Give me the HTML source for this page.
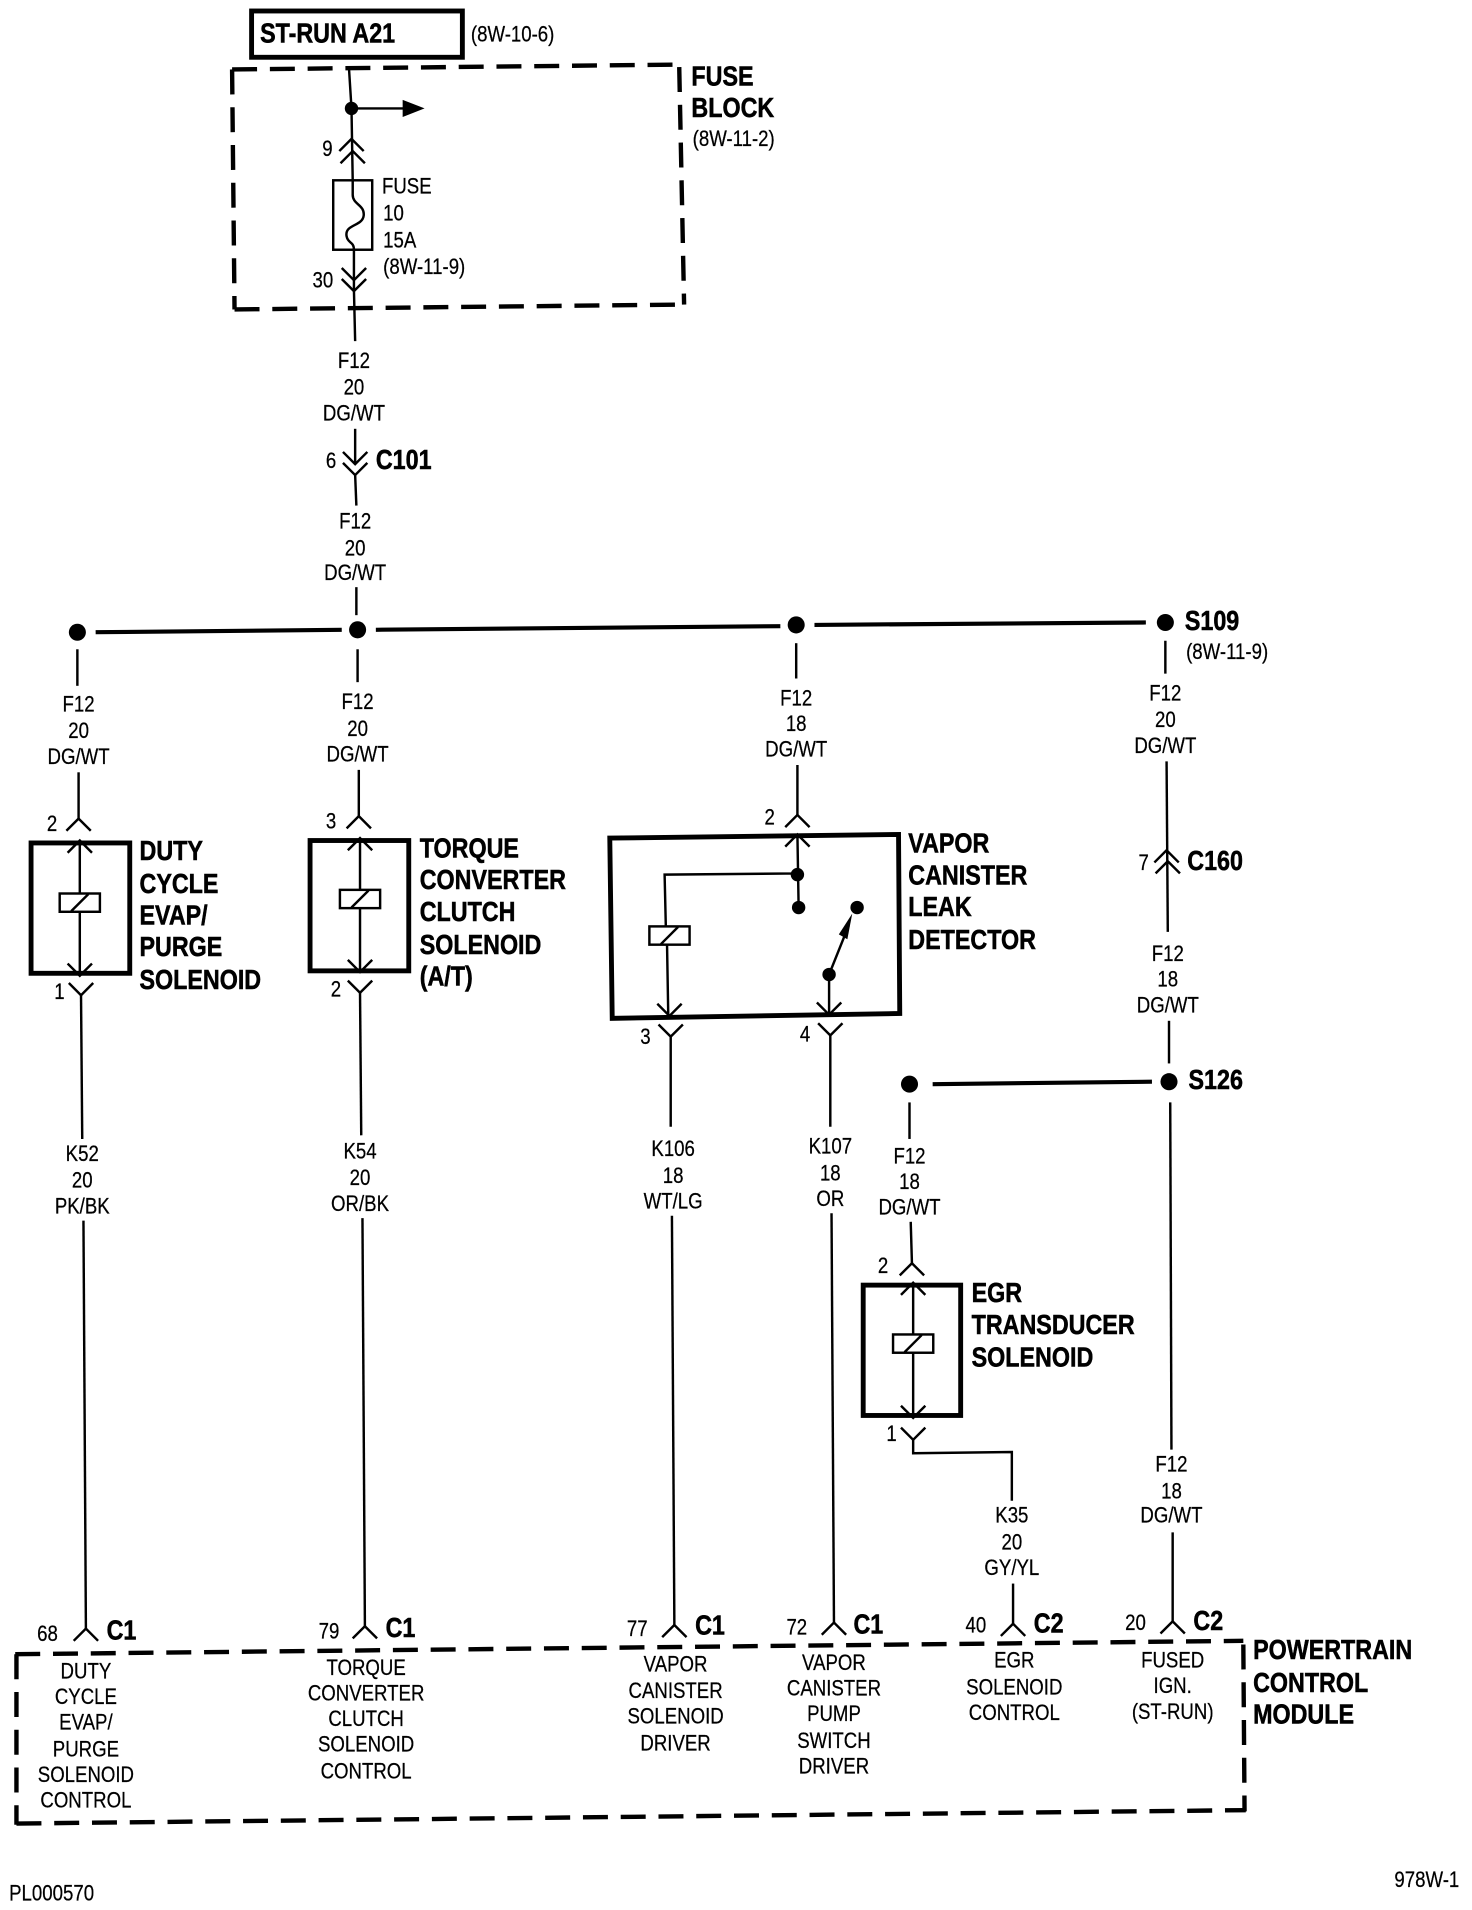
<!DOCTYPE html>
<html><head><meta charset="utf-8"><style>
html,body{margin:0;padding:0;background:#fff;width:1472px;height:1910px;overflow:hidden}
svg{display:block}
text{font-family:"Liberation Sans",sans-serif;fill:#000}
.r{font-size:18px;stroke:#000;stroke-width:.2px}
.c{font-size:18px;text-anchor:middle;stroke:#000;stroke-width:.2px}
.b{font-size:22.5px;font-weight:bold;stroke:#000;stroke-width:.45px}
.w{fill:none;stroke:#000;stroke-width:2}
.t{fill:none;stroke:#000;stroke-width:4}
.h{fill:none;stroke:#000;stroke-width:3.4}
.d{fill:none;stroke:#000;stroke-width:3.6;stroke-dasharray:20.5 10.5}
</style></head><body>
<svg width="1472" height="1910" viewBox="0 0 1210 1570" xmlns="http://www.w3.org/2000/svg">
<defs>
<path id="u" d="M-10 10L0 0L10 10" fill="none" stroke="#000" stroke-width="2"/>
<path id="v" d="M-10 -10L0 0L10 -10" fill="none" stroke="#000" stroke-width="2"/>
<g id="k"><rect x="-16.5" y="-7.5" width="33" height="15" fill="#fff" stroke="#000" stroke-width="2"/><path d="M-7 7L7 -7" stroke="#000" stroke-width="2"/></g>
</defs>
<rect width="1210" height="1570" fill="#fff"/>
<g transform="translate(.5 0) scale(1.0015 1.0013)">

<!-- top -->
<rect x="206" y="9" width="173" height="38" class="t"/>
<text class="b" transform="translate(213 35) scale(.85 1)">ST-RUN A21</text>
<text class="r" transform="translate(386 34) scale(.85 1)">(8W-10-6)</text>
<path class="d" d="M190 57L557 53"/><path class="d" d="M190 57L192 254"/><path class="d" d="M192 254L561 250"/><path class="d" d="M557 55L561 250"/>
<text class="b" transform="translate(567 70) scale(.85 1)">FUSE</text>
<text class="b" transform="translate(567 96) scale(.85 1)">BLOCK</text>
<text class="r" transform="translate(568 120) scale(.85 1)">(8W-11-2)</text>
<path class="w" d="M286 57L288 89L289 148"/><circle cx="288" cy="89" r="5.5"/><path class="w" d="M288 89H332"/><path d="M330 82L348 89L330 96Z"/>
<use href="#u" x="288" y="114"/><use href="#u" x="289" y="124"/>
<text class="r" transform="translate(264 128) scale(.85 1)">9</text>
<rect x="273" y="148" width="32" height="57" fill="#fff" stroke="#000" stroke-width="2"/>
<path class="w" d="M289 148V160C289 168 299 168 298 177C297 186 282 184 284 194C285 200 290 198 290 205V238L291 280"/>
<use href="#v" x="290" y="230"/><use href="#v" x="290" y="239"/>
<text class="r" transform="translate(256 236) scale(.85 1)">30</text>
<text class="r" transform="translate(313 159) scale(.85 1)">FUSE</text>
<text class="r" transform="translate(314 181) scale(.85 1)">10</text>
<text class="r" transform="translate(314 203) scale(.85 1)">15A</text>
<text class="r" transform="translate(314 225) scale(.85 1)">(8W-11-9)</text>
<text class="c" transform="translate(290 302) scale(.85 1)">F12</text><text class="c" transform="translate(290 324) scale(.85 1)">20</text><text class="c" transform="translate(290 345) scale(.85 1)">DG/WT</text>
<path class="w" d="M291 352L291 381"/><use href="#v" x="291" y="381"/><use href="#v" x="291" y="390"/><path class="w" d="M291 390L292 415"/>
<text class="r" transform="translate(267 384) scale(.85 1)">6</text>
<text class="b" transform="translate(308 385) scale(.85 1)">C101</text>
<text class="c" transform="translate(291 434) scale(.85 1)">F12</text><text class="c" transform="translate(291 456) scale(.85 1)">20</text><text class="c" transform="translate(291 476) scale(.85 1)">DG/WT</text>
<path class="w" d="M292 482V505"/>

<!-- bus -->
<circle cx="63" cy="519" r="7"/><path class="h" d="M78 519L280 517"/><circle cx="293" cy="517" r="7"/><path class="h" d="M308 517L640 514"/><circle cx="653" cy="513" r="7"/><path class="h" d="M668 513L940 511"/><circle cx="956" cy="511" r="7"/>
<text class="b" transform="translate(972 517) scale(.85 1)">S109</text>
<text class="r" transform="translate(973 541) scale(.85 1)">(8W-11-9)</text>

<!-- duty -->
<path class="w" d="M63 533V563"/>
<text class="c" transform="translate(64 584) scale(.85 1)">F12</text><text class="c" transform="translate(64 606) scale(.85 1)">20</text><text class="c" transform="translate(64 627) scale(.85 1)">DG/WT</text>
<path class="w" d="M64 634V672"/><use href="#u" x="64" y="672"/>
<text class="r" transform="translate(38 682) scale(.85 1)">2</text>
<rect x="25" y="692" width="81" height="107" class="t"/>
<path class="w" d="M65 690V800"/><use href="#u" x="65" y="690"/><use href="#v" x="65" y="801"/><use href="#k" x="65" y="741"/>
<use href="#v" x="66" y="817"/><path class="w" d="M66 817L67 935"/>
<text class="r" transform="translate(44 820) scale(.85 1)">1</text>
<text class="c" transform="translate(67 953) scale(.85 1)">K52</text><text class="c" transform="translate(67 975) scale(.85 1)">20</text><text class="c" transform="translate(67 996) scale(.85 1)">PK/BK</text>
<path class="w" d="M68 1002L70 1337"/><use href="#u" x="70" y="1337"/>
<text class="r" transform="translate(30 1347) scale(.85 1)">68</text>
<text class="b" transform="translate(87 1346) scale(.85 1)">C1</text>
<text class="b" transform="translate(114 706) scale(.85 1)">DUTY</text><text class="b" transform="translate(114 733) scale(.85 1)">CYCLE</text><text class="b" transform="translate(114 759) scale(.85 1)">EVAP/</text><text class="b" transform="translate(114 785) scale(.85 1)">PURGE</text><text class="b" transform="translate(114 812) scale(.85 1)">SOLENOID</text>
<text class="c" transform="translate(70 1378) scale(.85 1)">DUTY</text><text class="c" transform="translate(70 1399) scale(.85 1)">CYCLE</text><text class="c" transform="translate(70 1420) scale(.85 1)">EVAP/</text><text class="c" transform="translate(70 1442) scale(.85 1)">PURGE</text><text class="c" transform="translate(70 1463) scale(.85 1)">SOLENOID</text><text class="c" transform="translate(70 1484) scale(.85 1)">CONTROL</text>

<!-- torque -->
<path class="w" d="M293 533V560"/>
<text class="c" transform="translate(293 582) scale(.85 1)">F12</text><text class="c" transform="translate(293 604) scale(.85 1)">20</text><text class="c" transform="translate(293 625) scale(.85 1)">DG/WT</text>
<path class="w" d="M294 632V670"/><use href="#u" x="294" y="670"/>
<text class="r" transform="translate(267 680) scale(.85 1)">3</text>
<rect x="254" y="690" width="81" height="107" class="t"/>
<path class="w" d="M295 688V798"/><use href="#u" x="295" y="688"/><use href="#v" x="295" y="798"/><use href="#k" x="295" y="738"/>
<use href="#v" x="295" y="815"/><path class="w" d="M295 815L296 932"/>
<text class="r" transform="translate(271 818) scale(.85 1)">2</text>
<text class="c" transform="translate(295 951) scale(.85 1)">K54</text><text class="c" transform="translate(295 973) scale(.85 1)">20</text><text class="c" transform="translate(295 994) scale(.85 1)">OR/BK</text>
<path class="w" d="M297 1000L299 1335"/><use href="#u" x="299" y="1335"/>
<text class="r" transform="translate(261 1345) scale(.85 1)">79</text>
<text class="b" transform="translate(316 1344) scale(.85 1)">C1</text>
<text class="b" transform="translate(344 704) scale(.85 1)">TORQUE</text><text class="b" transform="translate(344 730) scale(.85 1)">CONVERTER</text><text class="b" transform="translate(344 756) scale(.85 1)">CLUTCH</text><text class="b" transform="translate(344 783) scale(.85 1)">SOLENOID</text><text class="b" transform="translate(344 809) scale(.85 1)">(A/T)</text>
<text class="c" transform="translate(300 1375) scale(.85 1)">TORQUE</text><text class="c" transform="translate(300 1396) scale(.85 1)">CONVERTER</text><text class="c" transform="translate(300 1417) scale(.85 1)">CLUTCH</text><text class="c" transform="translate(300 1438) scale(.85 1)">SOLENOID</text><text class="c" transform="translate(300 1460) scale(.85 1)">CONTROL</text>

<!-- vapor -->
<path class="w" d="M653 528V557"/>
<text class="c" transform="translate(653 579) scale(.85 1)">F12</text><text class="c" transform="translate(653 600) scale(.85 1)">18</text><text class="c" transform="translate(653 621) scale(.85 1)">DG/WT</text>
<path class="w" d="M654 628V669"/><use href="#u" x="654" y="669"/>
<text class="r" transform="translate(627 677) scale(.85 1)">2</text>
<path class="t" d="M500 688L737 685L738 832L502 836Z"/>
<path class="w" d="M654 685L655 745M654 717L545 718L546 761M547 776L548 834"/><use href="#u" x="654" y="685"/>
<circle cx="654" cy="718" r="5.5"/><circle cx="655" cy="745" r="5.5"/>
<use href="#k" x="549" y="768"/><use href="#v" x="549" y="834"/>
<use href="#v" x="550" y="851"/><path class="w" d="M550 851V925"/>
<text class="r" transform="translate(525 857) scale(.85 1)">3</text>
<circle cx="680" cy="800" r="5.5"/><circle cx="703" cy="745" r="5.5"/><path class="w" d="M680 800L696 760"/><path d="M699 750L695 771L688 767Z"/>
<path class="w" d="M680 800V833"/><use href="#v" x="680" y="833"/>
<use href="#v" x="681" y="850"/><path class="w" d="M681 850V925"/>
<text class="r" transform="translate(656 855) scale(.85 1)">4</text>
<text class="b" transform="translate(745 700) scale(.85 1)">VAPOR</text><text class="b" transform="translate(745 726) scale(.85 1)">CANISTER</text><text class="b" transform="translate(745 752) scale(.85 1)">LEAK</text><text class="b" transform="translate(745 779) scale(.85 1)">DETECTOR</text>
<text class="c" transform="translate(552 949) scale(.85 1)">K106</text><text class="c" transform="translate(552 971) scale(.85 1)">18</text><text class="c" transform="translate(552 992) scale(.85 1)">WT/LG</text>
<path class="w" d="M551 998L553 1334"/><use href="#u" x="553" y="1334"/>
<text class="r" transform="translate(514 1343) scale(.85 1)">77</text>
<text class="b" transform="translate(570 1342) scale(.85 1)">C1</text>
<text class="c" transform="translate(554 1372) scale(.85 1)">VAPOR</text><text class="c" transform="translate(554 1394) scale(.85 1)">CANISTER</text><text class="c" transform="translate(554 1415) scale(.85 1)">SOLENOID</text><text class="c" transform="translate(554 1437) scale(.85 1)">DRIVER</text>
<text class="c" transform="translate(681 947) scale(.85 1)">K107</text><text class="c" transform="translate(681 969) scale(.85 1)">18</text><text class="c" transform="translate(681 990) scale(.85 1)">OR</text>
<path class="w" d="M682 996L684 1332"/><use href="#u" x="684" y="1332"/>
<text class="r" transform="translate(645 1342) scale(.85 1)">72</text>
<text class="b" transform="translate(700 1341) scale(.85 1)">C1</text>
<text class="c" transform="translate(684 1371) scale(.85 1)">VAPOR</text><text class="c" transform="translate(684 1392) scale(.85 1)">CANISTER</text><text class="c" transform="translate(684 1413) scale(.85 1)">PUMP</text><text class="c" transform="translate(684 1435) scale(.85 1)">SWITCH</text><text class="c" transform="translate(684 1456) scale(.85 1)">DRIVER</text>

<!-- S109 column -->
<path class="w" d="M956 526V553"/>
<text class="c" transform="translate(956 575) scale(.85 1)">F12</text><text class="c" transform="translate(956 597) scale(.85 1)">20</text><text class="c" transform="translate(956 618) scale(.85 1)">DG/WT</text>
<path class="w" d="M957 625L958 765"/><use href="#u" x="957" y="698"/><use href="#u" x="958" y="707"/>
<text class="r" transform="translate(934 714) scale(.85 1)">7</text>
<text class="b" transform="translate(974 714) scale(.85 1)">C160</text>
<text class="c" transform="translate(958 789) scale(.85 1)">F12</text><text class="c" transform="translate(958 810) scale(.85 1)">18</text><text class="c" transform="translate(958 831) scale(.85 1)">DG/WT</text>
<path class="w" d="M959 838V873"/>
<circle cx="959" cy="888" r="7"/><path class="h" d="M765 890L945 888"/><circle cx="746" cy="890" r="7"/>
<text class="b" transform="translate(975 894) scale(.85 1)">S126</text>

<!-- EGR -->
<path class="w" d="M746 905V935"/>
<text class="c" transform="translate(746 955) scale(.85 1)">F12</text><text class="c" transform="translate(746 976) scale(.85 1)">18</text><text class="c" transform="translate(746 997) scale(.85 1)">DG/WT</text>
<path class="w" d="M747 1003L748 1037"/><use href="#u" x="748" y="1037"/>
<text class="r" transform="translate(720 1045) scale(.85 1)">2</text>
<rect x="708" y="1055" width="80" height="107" class="t"/>
<path class="w" d="M749 1053V1163"/><use href="#u" x="749" y="1053"/><use href="#v" x="749" y="1164"/><use href="#k" x="749" y="1103"/>
<use href="#v" x="749" y="1182"/><path class="w" d="M749 1182V1193L830 1192V1232"/>
<text class="r" transform="translate(727 1183) scale(.85 1)">1</text>
<text class="b" transform="translate(797 1069) scale(.85 1)">EGR</text><text class="b" transform="translate(797 1095) scale(.85 1)">TRANSDUCER</text><text class="b" transform="translate(797 1122) scale(.85 1)">SOLENOID</text>
<text class="c" transform="translate(830 1250) scale(.85 1)">K35</text><text class="c" transform="translate(830 1272) scale(.85 1)">20</text><text class="c" transform="translate(830 1293) scale(.85 1)">GY/YL</text>
<path class="w" d="M831 1300V1333"/><use href="#u" x="831" y="1333"/>
<text class="r" transform="translate(792 1340) scale(.85 1)">40</text>
<text class="b" transform="translate(848 1340) scale(.85 1)">C2</text>
<text class="c" transform="translate(832 1369) scale(.85 1)">EGR</text><text class="c" transform="translate(832 1391) scale(.85 1)">SOLENOID</text><text class="c" transform="translate(832 1412) scale(.85 1)">CONTROL</text>

<!-- fused -->
<path class="w" d="M960 905L961 1190"/>
<text class="c" transform="translate(961 1208) scale(.85 1)">F12</text><text class="c" transform="translate(961 1230) scale(.85 1)">18</text><text class="c" transform="translate(961 1250) scale(.85 1)">DG/WT</text>
<path class="w" d="M962 1258V1331"/><use href="#u" x="962" y="1331"/>
<text class="r" transform="translate(923 1338) scale(.85 1)">20</text>
<text class="b" transform="translate(979 1338) scale(.85 1)">C2</text>
<text class="c" transform="translate(962 1369) scale(.85 1)">FUSED</text><text class="c" transform="translate(962 1390) scale(.85 1)">IGN.</text><text class="c" transform="translate(962 1411) scale(.85 1)">(ST-RUN)</text>

<!-- PCM -->
<path class="d" d="M12 1358L1020 1347"/><path class="d" d="M13 1358V1498"/><path class="d" d="M13 1497L1022 1486"/><path class="d" d="M1020 1350L1021 1487"/>
<text class="b" transform="translate(1028 1362) scale(.85 1)">POWERTRAIN</text><text class="b" transform="translate(1028 1389) scale(.85 1)">CONTROL</text><text class="b" transform="translate(1028 1415) scale(.85 1)">MODULE</text>
<text class="r" transform="translate(7 1560) scale(.85 1)">PL000570</text>
<text class="r" transform="translate(1144 1549) scale(.85 1)">978W-1</text>
</g>
</svg>
</body></html>
